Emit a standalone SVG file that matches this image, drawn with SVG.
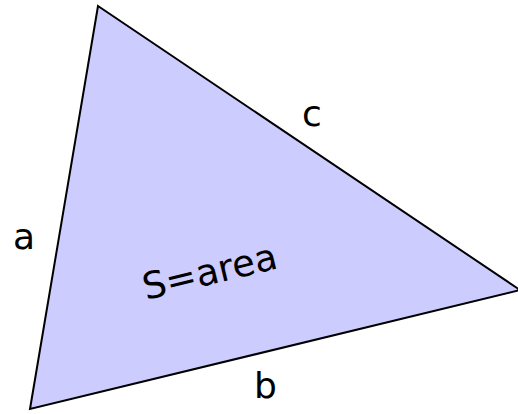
<svg xmlns="http://www.w3.org/2000/svg" width="518" height="414" viewBox="0 0 518 414">
<style>
text{font-family:"DejaVu Sans",Verdana,sans-serif;font-size:36px;fill:#000}
</style>
<rect width="518" height="414" fill="#fff"/>
<g id="triangle">
<polygon points="98,6 520,290 30,409" fill="#ccccff" stroke="#000" stroke-width="2" stroke-linejoin="miter"/>
</g>
<g id="labels">
<text x="13" y="249">a</text>
<text x="302" y="126">c</text>
<text x="254" y="398">b</text>
<text x="146" y="300" transform="rotate(-13.5 146 300)" style="font-size:37px">S=area</text>
</g>
</svg>
